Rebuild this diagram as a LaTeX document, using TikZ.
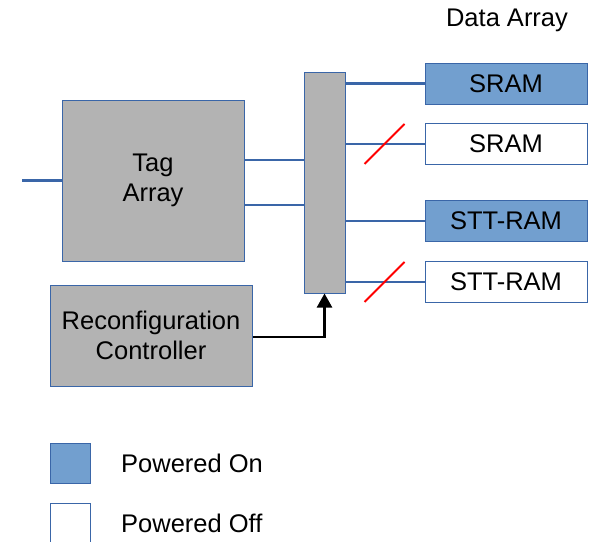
\documentclass[tikz,border=0pt]{standalone}
\usepackage{fontspec}
\setmainfont{Liberation Sans}
\usetikzlibrary{arrows.meta,positioning,calc}
\definecolor{CacheBlue}{HTML}{729FCF}
\definecolor{CacheLine}{HTML}{3A66A8}
\definecolor{CacheGray}{HTML}{B3B3B3}
\definecolor{CacheRed}{HTML}{FF0000}
\tikzset{
    % Base block style
    baseblock/.style={
        draw=CacheLine,
        line width=1pt,
        inner sep=0pt,
        align=center,
        font=\fontsize{25.5}{30}\selectfont
    },
    % Gray logic block
    logicblock/.style={
        baseblock,
        fill=CacheGray
    },
    % Data bank, powered on
    onbank/.style={
        baseblock,
        fill=CacheBlue,
        minimum width=162pt,
        minimum height=41pt
    },
    % Data bank, powered off
    offbank/.style={
        baseblock,
        fill=white,
        minimum width=162pt,
        minimum height=41pt
    },
    % Legend square
    legendbox/.style={
        baseblock,
        minimum width=40pt,
        minimum height=40pt
    },
    % Plain label
    plainlabel/.style={
        inner sep=0pt,
        font=\fontsize{25.5}{30}\selectfont
    },
    % Blue wire
    bus/.style={
        draw=CacheLine,
        line width=2.4pt
    },
    % Control arrow
    ctrlarrow/.style={
        -{Triangle[length=14pt,width=15pt]},
        line width=2.4pt,
        draw=black
    },
    % Power-off cut
    cutmark/.style={
        draw=CacheRed,
        line width=1.8pt
    }
}
\begin{document}
\begin{tikzpicture}[x=1pt,y=-1pt]
        \useasboundingbox (0,0) rectangle (596,541);

        % Tag array and controller
        \node[logicblock, minimum width=182pt, minimum height=161pt] (tag) at (153,180.5) {Tag\\Array};
        \node[logicblock, minimum width=202pt, minimum height=101pt] (ctrl) at (151,335.5) {Reconfiguration\\Controller};

        % Switch between tag and data
        \node[logicblock, minimum width=41pt, minimum height=221pt] (mux) at (324.5,182.5) {};

        % Data array banks
        \node[plainlabel] (title) at (507,20) {Data Array};
        \node[onbank] (sram1) at (506,83.5) {SRAM};
        \node[offbank] (sram2) at (506,144) {SRAM};
        \node[onbank] (stt1) at (506,221) {STT-RAM};
        \node[offbank] (stt2) at (506,282) {STT-RAM};

        % Wires
        \draw[bus] (tag.west) -- ++(-40,0);
        \draw[bus] (tag.east |- 0,160) -- (mux.west |- 0,160);
        \draw[bus] (tag.east |- 0,205) -- (mux.west |- 0,205);
        \draw[bus] (mux.east |- sram1) -- (sram1);
        \draw[bus] (mux.east |- sram2) -- (sram2);
        \draw[bus] (mux.east |- stt1) -- (stt1);
        \draw[bus] (mux.east |- stt2) -- (stt2);

        % Cut marks on powered-off banks
        \draw[cutmark] ($(sram2.west)+(-60,20)$) -- ($(sram2.west)+(-20,-20)$);
        \draw[cutmark] ($(stt2.west)+(-60,20)$) -- ($(stt2.west)+(-20,-20)$);

        % Control
        \draw[ctrlarrow] (ctrl.east |- 0,337) -| (mux.south);

        % Legend
        \node[legendbox, fill=CacheBlue] (legon) at (70,463) {};
        \node[legendbox, fill=white] (legoff) at (70,523) {};
        \node[plainlabel, anchor=west] (legontext) at (121,463) {Powered On};
        \node[plainlabel, anchor=west] (legofftext) at (121,523) {Powered Off};
    \end{tikzpicture}
\end{document}
